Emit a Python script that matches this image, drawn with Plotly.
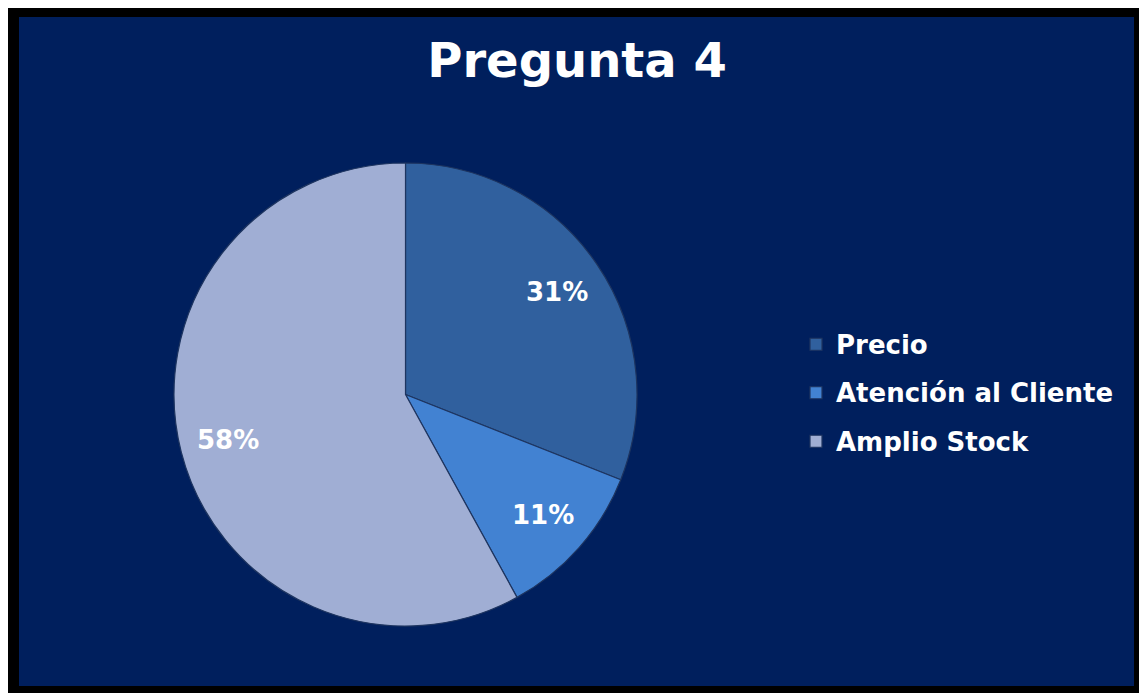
import math
import plotly.graph_objects as go

labels = ["Precio", "Atención al Cliente", "Amplio Stock"]
values = [31, 11, 58]
colors = ["#30609E", "#4282D2", "#A0AED4"]

# figure sits at an 8px offset inside the page
W, H = 1137, 685
OFF = 8


def fx(p):
    return (p - OFF) / W


def fy(p):
    return 1 - (p - OFF) / H


# pie box in page pixels
left, right, top, bottom = 174, 637, 162, 627
R = (right - left) / 2
cx, cy = (left + right) / 2, (top + bottom) / 2

fig = go.Figure(go.Pie(
    labels=[f'<span style="font-size:26px;baseline-shift:4px">{l}</span>' for l in labels],
    values=values,
    sort=False,
    direction="clockwise",
    rotation=0,
    marker=dict(colors=colors, line=dict(color="#1E3560", width=1.2)),
    textinfo="none",
    domain=dict(x=[fx(left), fx(right)], y=[fy(bottom), fy(top)]),
    hovertext=labels,
    hoverinfo="text+percent",
))

# percentage labels placed on each slice bisector
total = sum(values)
cum = 0
for v in values:
    theta = 2 * math.pi * (cum + v / 2) / total
    cum += v
    px = cx + 0.79 * R * math.sin(theta)
    py = cy - 0.79 * R * math.cos(theta)
    fig.add_annotation(x=fx(px), y=fy(py), xref="paper", yref="paper",
                       xanchor="center", yanchor="middle",
                       text=f"<b>{round(100 * v / total)}%</b>", showarrow=False,
                       font=dict(family="DejaVu Sans", size=26, color="white"))

# outer black frame and navy panel
fig.add_shape(type="rect", xref="paper", yref="paper",
              x0=0, x1=1, y0=0, y1=1,
              fillcolor="black", line_width=0, layer="below")
fig.add_shape(type="rect", xref="paper", yref="paper",
              x0=fx(19), x1=fx(1134), y0=fy(686), y1=fy(17),
              fillcolor="#001F5D", line_width=0, layer="below")

fig.update_layout(
    width=W, height=H,
    margin=dict(l=0, r=0, t=0, b=0),
    paper_bgcolor="black",
    plot_bgcolor="black",
    title=dict(text="<b>Pregunta 4</b>", x=fx(577), xanchor="center",
               y=fy(60.5), yanchor="middle",
               font=dict(family="DejaVu Sans", size=48, color="white")),
    legend=dict(x=fx(796), y=fy(393), xanchor="left", yanchor="middle",
                font=dict(family="DejaVu Sans", size=35, color="white", weight="bold"),
                bgcolor="rgba(0,0,0,0)", itemwidth=30, tracegroupgap=0),
    showlegend=True,
)

fig.write_html("out.html")
